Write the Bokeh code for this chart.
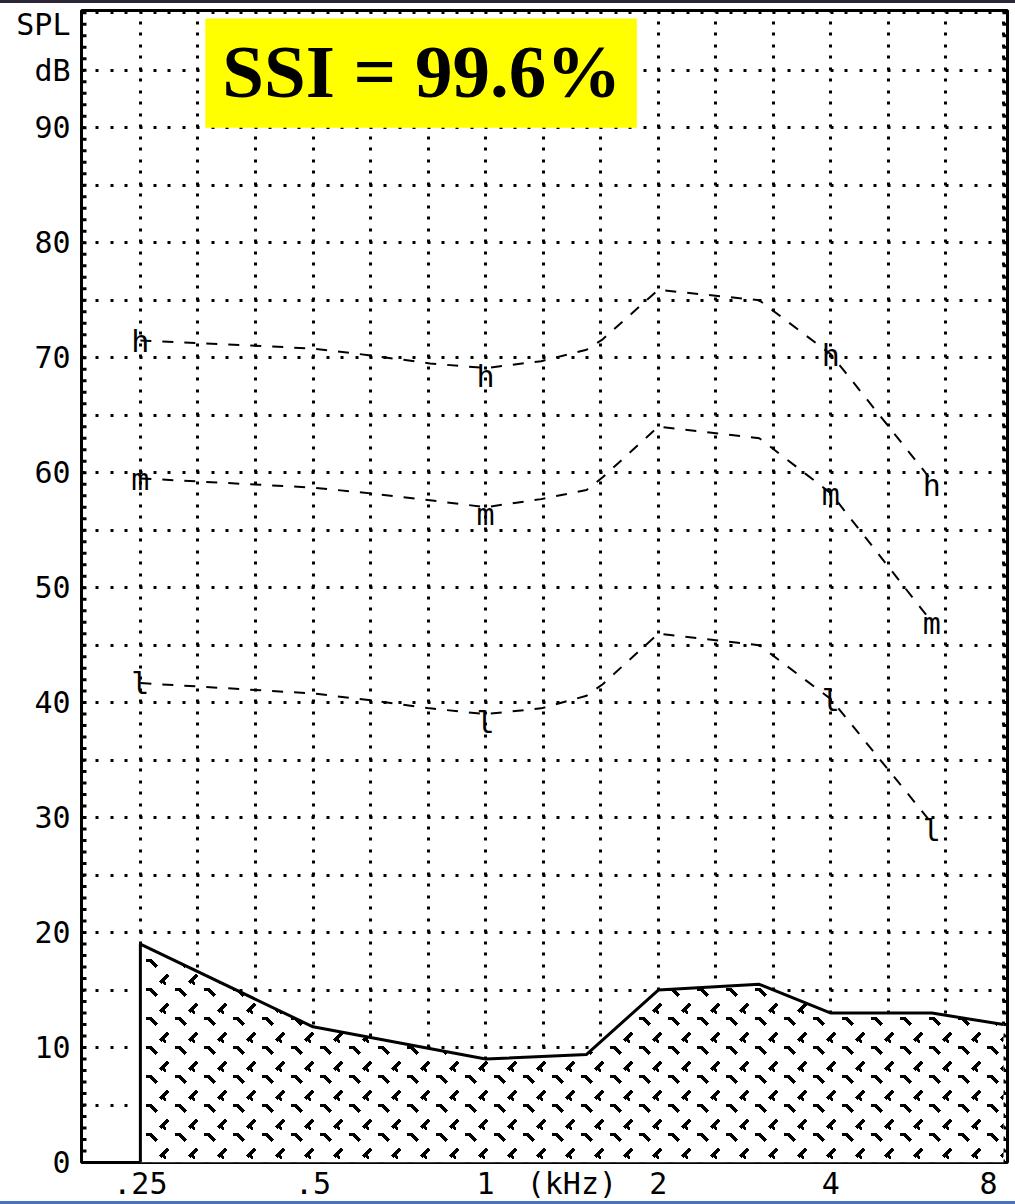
import base64
import math
import numpy as np
from bokeh.plotting import figure
from bokeh.models import FixedTicker, Range1d, ColumnDataSource, ImageURLTexture
from bokeh.core.properties import value
from bokeh.embed import file_html
from bokeh.resources import INLINE

# ---------------- data ----------------
# speech-spectrum curves (kHz, dB SPL)
curve_freqs = [0.25, 0.5, 0.63, 0.8, 1.0, 1.25, 1.5, 1.6, 2.0, 3.0, 4.0, 6.0]
h_level = [71.5, 70.8, 70.2, 69.5, 69.1, 69.7, 70.7, 71.6, 75.9, 75.0, 70.3, 59.3]
m_level = [59.5, 58.7, 58.2, 57.6, 57.0, 57.7, 58.5, 59.6, 64.0, 63.0, 58.2, 47.0]
l_level = [41.7, 40.8, 40.2, 39.5, 39.0, 39.5, 40.6, 41.6, 46.0, 45.0, 40.3, 29.5]

# letter markers on the curves
marker_freqs = [0.25, 1.0, 4.0, 6.0]
h_marks = [71.4, 68.4, 70.2, 58.9]
m_marks = [59.4, 56.4, 58.1, 46.9]
l_marks = [41.7, 38.3, 40.2, 28.9]

# hearing threshold (hatched area)
threshold_freqs = [0.25, 0.5, 1.0, 1.5, 2.0, 3.0, 4.0, 6.0, 8.0]
threshold_db = [19.0, 11.8, 9.0, 9.4, 15.0, 15.5, 13.0, 13.0, 12.0]

# axis labels
x_tick_freqs = [0.25, 0.5, 1.0, 1.414, 2.0, 4.0, 8.0]
x_tick_labels = [".25", ".5", "1", "(kHz)", "2", "4", "8 "]
y_label_values = [0, 10, 20, 30, 40, 50, 60, 70, 80, 90, 95, 99]
y_label_texts = ["0", "10", "20", "30", "40", "50", "60", "70", "80", "90", "dB", "SPL"]

ssi_text = "SSI = 99.6%"

# ---------------- layout constants ----------------
X_START, X_END = -2.341, 3.023   # log2(kHz)
Y_START, Y_END = 0.0, 100.2
BOX_LEFT, BOX_RIGHT, BOX_BOTTOM, BOX_TOP = -1.624, 0.876, 90.0, 99.5
TXT_X, TXT_Y = -0.37, 94.9

MONO = "DejaVu Sans Mono"

def lx(freqs):
    return [float(np.log2(f)) for f in freqs]

# herringbone texture tile
tile_svg = ("<svg xmlns='http://www.w3.org/2000/svg' width='29' height='29' shape-rendering='crispEdges'>"
            "<path d='M1 3 L5 3 L12 10 M15 26 L23 18 M18 25 L21 27' stroke='black' "
            "stroke-width='3' fill='none'/></svg>")
tile_url = "data:image/svg+xml;base64," + base64.b64encode(tile_svg.encode()).decode()

p = figure(width=1015, height=1204, output_backend="svg", toolbar_location=None,
           x_range=Range1d(X_START, X_END), y_range=Range1d(Y_START, Y_END),
           min_border_left=81, min_border_right=8, min_border_top=10, min_border_bottom=42,
           background_fill_color="white", border_fill_color=None)
p.styles = {"background-color": "white",
            "box-shadow": "inset 0 3px 0 0 #2b2738, inset 0 -3px 0 0 #4a72c4"}
p.outline_line_color = "black"
p.outline_line_width = 3
p.outline_line_alpha = 1.0

# grids
p.xgrid.ticker = FixedTicker(ticks=[-2 + k / 3 for k in range(16)])
p.ygrid.ticker = FixedTicker(ticks=list(range(5, 101, 5)))
p.xgrid.grid_line_color = "black"
p.xgrid.grid_line_width = 3
p.xgrid.grid_line_dash = "3 8 3 9"
p.ygrid.grid_line_color = "black"
p.ygrid.grid_line_width = 3
p.ygrid.grid_line_dash = "3 11 3 12 3 11 3 12 3 11"

# x axis
xa = p.xaxis[0]
x_ticks = lx(x_tick_freqs)
xa.ticker = FixedTicker(ticks=x_ticks, minor_ticks=[])
xa.major_label_overrides = {t: lab for t, lab in zip(x_ticks, x_tick_labels)}
xa.axis_line_color = None
xa.major_tick_in = 0
xa.major_tick_out = 0
xa.minor_tick_in = 0
xa.minor_tick_out = 0
xa.major_label_standoff = 3
xa.major_label_text_font = MONO
xa.major_label_text_font_style = "normal"
xa.major_label_text_font_size = "30px"
xa.major_label_text_color = "black"

# y axis: labels every 10 dB
ya = p.yaxis[0]
ya.ticker = FixedTicker(ticks=y_label_values, minor_ticks=[])
ya.major_label_overrides = {t: lab for t, lab in zip(y_label_values, y_label_texts)}
ya.axis_line_color = None
ya.major_tick_in = 0
ya.major_tick_out = 0
ya.minor_tick_in = 0
ya.minor_tick_out = 0
ya.major_label_standoff = 11
ya.major_label_text_font = MONO
ya.major_label_text_font_style = "normal"
ya.major_label_text_font_size = "30px"
ya.major_label_text_color = "black"

# inward 1-dB tick marks on the left and right frame edges
dB_steps = list(range(0, 101))
p.ray(x=[X_START] * len(dB_steps), y=dB_steps, length=5, length_units="screen", angle=0,
      line_color="black", line_width=3)
p.ray(x=[X_END] * len(dB_steps), y=dB_steps, length=5, length_units="screen", angle=math.pi,
      line_color="black", line_width=3)

# yellow SSI box + text
p.quad(left=[BOX_LEFT], right=[BOX_RIGHT], bottom=[BOX_BOTTOM], top=[BOX_TOP],
       fill_color="#FFFF00", line_color=None)
p.text(x=[TXT_X], y=[TXT_Y], text=[ssi_text], text_font=value("Liberation Serif"),
       text_font_style="bold", text_font_size="75px", text_align="center",
       text_baseline="middle", text_color="black")

# hatched threshold area
tx = lx(threshold_freqs)
area_x = [tx[0]] + tx + [tx[-1]]
area_y = [0.0] + threshold_db + [0.0]
p.patch(area_x, area_y, fill_color="white", line_color=None,
        hatch_pattern="herring", hatch_extra={"herring": ImageURLTexture(url=tile_url)})
p.line([tx[0]] + tx, [0.0] + threshold_db, line_color="black", line_width=3)

# speech curves
cx = lx(curve_freqs)
for lev in (h_level, m_level, l_level):
    p.line(cx, lev, line_color="black", line_width=2, line_dash="11 11")

mx = lx(marker_freqs)
for letter, marks in (("h", h_marks), ("m", m_marks), ("l", l_marks)):
    src = ColumnDataSource(dict(x=mx, y=marks, t=[letter] * len(mx)))
    p.text(x="x", y="y", text="t", source=src, text_font=value(MONO), text_font_size="30px",
           text_align="center", text_baseline="middle", text_color="black")

html = file_html(p, INLINE)
html = html.replace("</head>",
                    "<style>html,body{margin:0;padding:0;overflow:hidden;background:white;}</style></head>", 1)
open("out.html", "w").write(html)
